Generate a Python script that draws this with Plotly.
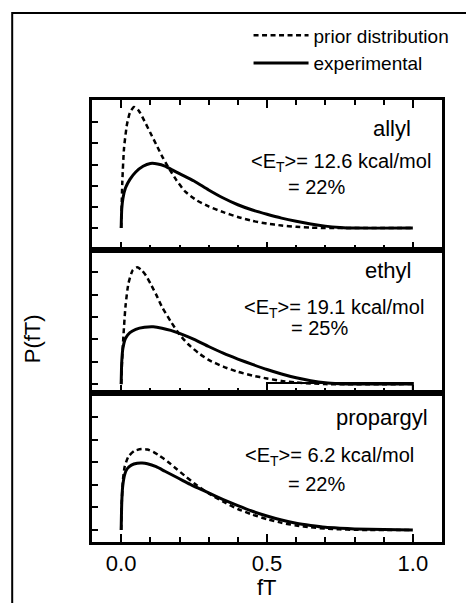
import plotly.graph_objects as go

FONT = "Liberation Sans, Arial, sans-serif"

# ---- data ----
x_major_ticks = [0.0, 0.5, 1.0]
x_tick_labels = ["0.0", "0.5", "1.0"]
y_ticks = [0, 1, 2, 3, 4, 5]

species = ["allyl", "ethyl", "propargyl"]
mean_et = ["12.6", "19.1", "6.2"]
fraction = ["22%", "25%", "22%"]

allyl_prior_x = [0.0, 0.004, 0.01, 0.02, 0.03, 0.044, 0.06, 0.08, 0.10, 0.12, 0.14, 0.164, 0.19, 0.22, 0.26, 0.30, 0.35, 0.40, 0.45, 0.50, 0.55, 0.60, 0.65, 0.70, 1.0]
allyl_prior_y = [0.0, 2.2, 3.8, 4.9, 5.45, 5.72, 5.55, 5.05, 4.5, 3.95, 3.4, 2.82, 2.25, 1.72, 1.3, 1.02, 0.75, 0.52, 0.34, 0.21, 0.12, 0.06, 0.02, 0.0, 0.0]
allyl_exp_x = [0.0, 0.002, 0.006, 0.015, 0.03, 0.05, 0.075, 0.10, 0.125, 0.15, 0.175, 0.20, 0.25, 0.30, 0.35, 0.40, 0.45, 0.50, 0.55, 0.60, 0.65, 0.70, 0.75, 0.80, 1.0]
allyl_exp_y = [0.0, 0.9, 1.4, 1.9, 2.3, 2.65, 2.92, 3.05, 3.03, 2.93, 2.75, 2.57, 2.22, 1.8, 1.42, 1.1, 0.85, 0.65, 0.47, 0.32, 0.19, 0.09, 0.03, 0.0, 0.0]

ethyl_prior_x = [0.0, 0.003, 0.008, 0.015, 0.025, 0.04, 0.055, 0.07, 0.085, 0.10, 0.12, 0.14, 0.17, 0.20, 0.23, 0.266, 0.30, 0.35, 0.40, 0.45, 0.50, 0.55, 0.60, 0.65, 0.70, 1.0]
ethyl_prior_y = [0.0, 1.0, 2.2, 3.5, 4.5, 5.1, 5.22, 5.1, 4.85, 4.5, 4.0, 3.45, 2.8, 2.22, 1.78, 1.38, 1.08, 0.78, 0.55, 0.38, 0.25, 0.14, 0.07, 0.03, 0.0, 0.0]
ethyl_exp_x = [0.0, 0.002, 0.006, 0.015, 0.03, 0.05, 0.08, 0.11, 0.14, 0.17, 0.20, 0.25, 0.30, 0.35, 0.40, 0.45, 0.50, 0.55, 0.60, 0.65, 0.70, 0.75, 0.80, 1.0]
ethyl_exp_y = [0.0, 1.0, 1.6, 2.05, 2.3, 2.45, 2.54, 2.56, 2.5, 2.4, 2.27, 2.0, 1.68, 1.38, 1.12, 0.88, 0.65, 0.45, 0.28, 0.15, 0.06, 0.02, 0.0, 0.0]
ethyl_box_x = [0.5, 0.5, 1.0, 1.0]
ethyl_box_y = [-0.4, 0.05, 0.05, -0.4]

propargyl_prior_x = [0.0, 0.002, 0.006, 0.012, 0.025, 0.045, 0.07, 0.09, 0.11, 0.13, 0.16, 0.19, 0.22, 0.25, 0.30, 0.35, 0.40, 0.45, 0.50, 0.55, 0.60, 0.65, 0.70, 0.75, 0.80, 0.85, 1.0]
propargyl_prior_y = [0.0, 1.2, 2.2, 2.8, 3.25, 3.5, 3.58, 3.56, 3.46, 3.3, 3.02, 2.7, 2.38, 2.07, 1.62, 1.25, 0.93, 0.68, 0.48, 0.32, 0.2, 0.12, 0.06, 0.03, 0.01, 0.0, 0.0]
propargyl_exp_x = [0.0, 0.002, 0.005, 0.012, 0.02, 0.035, 0.055, 0.072, 0.09, 0.12, 0.15, 0.18, 0.21, 0.24, 0.27, 0.30, 0.35, 0.40, 0.45, 0.50, 0.55, 0.60, 0.65, 0.70, 0.75, 0.80, 0.90, 1.0]
propargyl_exp_y = [0.0, 1.2, 1.9, 2.45, 2.7, 2.87, 2.95, 2.96, 2.93, 2.8, 2.6, 2.4, 2.2, 2.0, 1.82, 1.64, 1.35, 1.08, 0.83, 0.62, 0.44, 0.3, 0.2, 0.12, 0.08, 0.05, 0.02, 0.0]

prior_series = [(allyl_prior_x, allyl_prior_y), (ethyl_prior_x, ethyl_prior_y), (propargyl_prior_x, propargyl_prior_y)]
exp_series = [(allyl_exp_x, allyl_exp_y), (ethyl_exp_x, ethyl_exp_y), (propargyl_exp_x, propargyl_exp_y)]

y_ranges = [[-1.03, 6.05], [-0.4, 6.0], [-0.53, 6.06]]
domains = [[0.661, 1.0], [0.337, 0.661], [0.0, 0.337]]
# annotation anchors in data units: name, mean energy line, fraction line
name_pos = [(1.0, 4.7), (1.0, 5.09), (1.058, 4.96)]
et_pos = [(0.755, 3.1), (0.73, 3.39), (0.715, 3.27)]
frac_pos = [(0.67, 1.92), (0.68, 2.5), (0.67, 2.04)]

fig = go.Figure()

for i in range(3):
    xa = "x" if i == 0 else f"x{i+1}"
    ya = "y" if i == 0 else f"y{i+1}"
    px, py = prior_series[i]
    ex, ey = exp_series[i]
    fig.add_trace(go.Scatter(
        x=px, y=py, xaxis=xa, yaxis=ya, mode="lines",
        line=dict(color="black", width=2.5, dash="5px,3.5px", shape="spline", smoothing=0.6),
        name="prior distribution", showlegend=(i == 0), legendrank=1))
    fig.add_trace(go.Scatter(
        x=ex, y=ey, xaxis=xa, yaxis=ya, mode="lines",
        line=dict(color="black", width=3, shape="spline", smoothing=0.6),
        name="experimental", showlegend=(i == 0), legendrank=2))

fig.add_trace(go.Scatter(
    x=ethyl_box_x, y=ethyl_box_y, xaxis="x2", yaxis="y2", mode="lines",
    line=dict(color="black", width=2), showlegend=False, hoverinfo="skip"))

layout = dict(
    width=466, height=603, autosize=False,
    margin=dict(l=92, r=23, t=100, b=61),
    paper_bgcolor="white", plot_bgcolor="white",
    font=dict(family=FONT, color="black", size=19),
    showlegend=True,
    legend=dict(x=0.446, y=1.189, xanchor="left", yanchor="top",
                bgcolor="rgba(0,0,0,0)", borderwidth=0,
                font=dict(size=19, family=FONT, color="black"), itemwidth=55,
                tracegroupgap=0),
)

for i in range(3):
    xk = "xaxis" if i == 0 else f"xaxis{i+1}"
    yk = "yaxis" if i == 0 else f"yaxis{i+1}"
    ya = "y" if i == 0 else f"y{i+1}"
    layout[xk] = dict(
        range=[-0.1, 1.1], anchor=ya, domain=[0, 1],
        showline=True, linecolor="black", linewidth=3,
        mirror="ticks" if i == 0 else True,
        ticks="inside", ticklen=8, tickwidth=2, tickcolor="black",
        tickvals=x_major_ticks, ticktext=x_tick_labels,
        showticklabels=(i == 2), tickfont=dict(size=22, family=FONT, color="black"),
        minor=dict(dtick=0.1, tick0=0, ticks="inside", ticklen=5, tickwidth=2, tickcolor="black"),
        showgrid=False, zeroline=False, fixedrange=True,
    )
    layout[yk] = dict(
        range=y_ranges[i], domain=domains[i], anchor="x" if i == 0 else f"x{i+1}",
        showline=True, linecolor="black", linewidth=3, mirror=True,
        ticks="inside", ticklen=6, tickwidth=2, tickcolor="black",
        tickvals=y_ticks, showticklabels=False,
        showgrid=False, zeroline=False, fixedrange=True,
    )

fig.update_layout(**layout)

for i in range(3):
    xa = "x" if i == 0 else f"x{i+1}"
    ya = "y" if i == 0 else f"y{i+1}"
    fig.add_annotation(x=name_pos[i][0], y=name_pos[i][1], xref=xa, yref=ya,
                       text=species[i], showarrow=False, xanchor="right", yanchor="middle",
                       font=dict(size=22, family=FONT, color="black"))
    fig.add_annotation(x=et_pos[i][0], y=et_pos[i][1], xref=xa, yref=ya,
                       text=f"&lt;E<sub>T</sub>&gt;= {mean_et[i]} kcal/mol", showarrow=False,
                       xanchor="center", yanchor="middle", font=dict(size=20, family=FONT, color="black"))
    fig.add_annotation(x=frac_pos[i][0], y=frac_pos[i][1], xref=xa, yref=ya,
                       text=f"= {fraction[i]}", showarrow=False,
                       xanchor="center", yanchor="middle", font=dict(size=20, family=FONT, color="black"))

fig.add_annotation(x=-0.171, y=0.459, xref="paper", yref="paper", text="P(fT)",
                   textangle=-90, showarrow=False, xanchor="center", yanchor="middle",
                   font=dict(size=22, family=FONT, color="black"))
fig.add_annotation(x=0.501, y=-0.102, xref="paper", yref="paper", text="fT",
                   showarrow=False, xanchor="center", yanchor="middle",
                   font=dict(size=22, family=FONT, color="black"))

# outer frame of the figure (left and top edges)
fig.add_shape(type="path", xref="paper", yref="paper",
              path="M -0.228,-0.2 L -0.228,1.197 L 1.1,1.197",
              line=dict(color="black", width=2))

fig.write_html("out.html")
